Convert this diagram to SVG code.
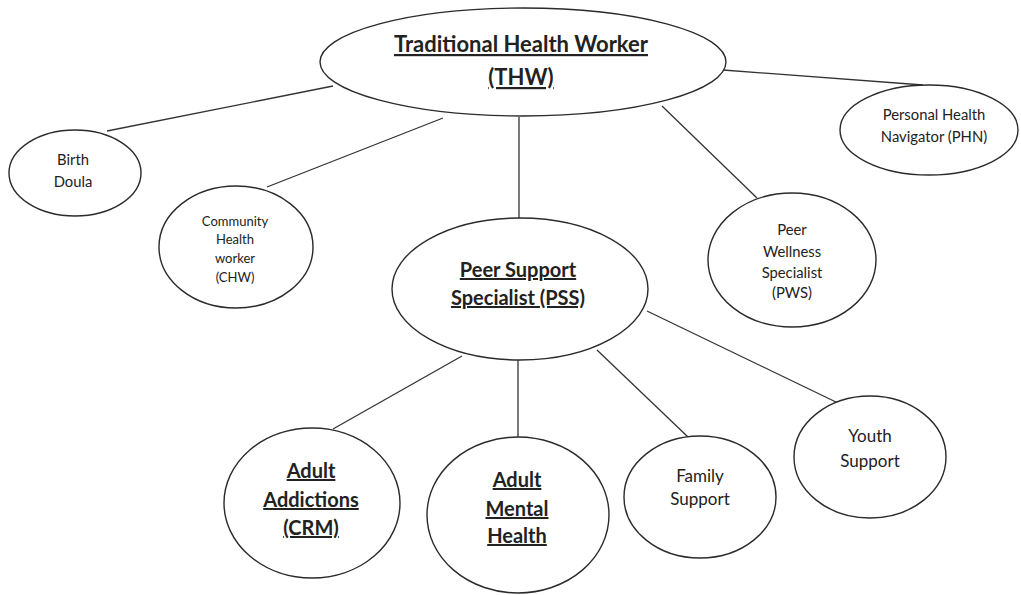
<svg xmlns="http://www.w3.org/2000/svg" width="1021" height="595" viewBox="0 0 1021 595">
  <style>
    .node ellipse { fill: #ffffff; stroke: #2b2b2b; stroke-width: 1.4; }
    .conn line { stroke: #333333; stroke-width: 1.3; }
    text { font-family: Lato, "Open Sans", "Liberation Sans", sans-serif; fill: #222222; text-anchor: middle; }
    .main { font-size: 22px; font-weight: bold; text-decoration: underline; }
    .sub { font-size: 20px; font-weight: bold; text-decoration: underline; }
    .mid { font-size: 17px; }
    .small { font-size: 14.8px; }
    .tiny { font-size: 13px; }
  </style>
  <rect width="1021" height="595" fill="#ffffff"/>

  <!-- connectors -->
  <g class="conn" id="connectors">
    <line x1="519" y1="117" x2="519" y2="218"/>
    <line x1="333" y1="86" x2="107" y2="131"/>
    <line x1="443" y1="118" x2="267" y2="187"/>
    <line x1="723" y1="70" x2="923" y2="85"/>
    <line x1="662" y1="106" x2="757" y2="198"/>
    <line x1="462" y1="356" x2="333" y2="429"/>
    <line x1="518" y1="360" x2="518" y2="437"/>
    <line x1="597" y1="350" x2="688" y2="437"/>
    <line x1="647" y1="311" x2="838" y2="403"/>
  </g>

  <!-- nodes -->
  <g class="node" id="thw">
    <ellipse cx="523" cy="62" rx="203" ry="54"/>
    <text class="main" x="521" y="52">Traditional Health Worker</text>
    <text class="main" x="521" y="85">(THW)</text>
  </g>
  <g class="node" id="birth-doula">
    <ellipse cx="75" cy="173" rx="66" ry="43"/>
    <text class="small" x="73" y="165">Birth</text>
    <text class="small" x="73" y="187">Doula</text>
  </g>
  <g class="node" id="chw">
    <ellipse cx="236" cy="247" rx="77" ry="61"/>
    <text class="tiny" x="235" y="226">Community</text>
    <text class="tiny" x="235" y="244">Health</text>
    <text class="tiny" x="235" y="263">worker</text>
    <text class="tiny" x="235" y="282">(CHW)</text>
  </g>
  <g class="node" id="phn">
    <ellipse cx="929" cy="130" rx="89" ry="45"/>
    <text class="small" x="934" y="120">Personal Health</text>
    <text class="small" x="934" y="142">Navigator (PHN)</text>
  </g>
  <g class="node" id="pws">
    <ellipse cx="792" cy="260" rx="84" ry="67"/>
    <text class="small" x="792" y="235">Peer</text>
    <text class="small" x="792" y="257">Wellness</text>
    <text class="small" x="792" y="278">Specialist</text>
    <text class="small" x="792" y="298">(PWS)</text>
  </g>
  <g class="node" id="pss">
    <ellipse cx="520" cy="289" rx="128" ry="71"/>
    <text class="sub" x="518" y="277">Peer Support</text>
    <text class="sub" x="518" y="305">Specialist (PSS)</text>
  </g>
  <g class="node" id="adult-addictions">
    <ellipse cx="312" cy="503" rx="88" ry="75"/>
    <text class="sub" x="311" y="478">Adult</text>
    <text class="sub" x="311" y="507">Addictions</text>
    <text class="sub" x="311" y="535">(CRM)</text>
  </g>
  <g class="node" id="adult-mental-health">
    <ellipse cx="518" cy="515" rx="91" ry="78"/>
    <text class="sub" x="517" y="487">Adult</text>
    <text class="sub" x="517" y="516">Mental</text>
    <text class="sub" x="517" y="543">Health</text>
  </g>
  <g class="node" id="family-support">
    <ellipse cx="700" cy="497" rx="76" ry="61"/>
    <text class="mid" x="700" y="482">Family</text>
    <text class="mid" x="700" y="505">Support</text>
  </g>
  <g class="node" id="youth-support">
    <ellipse cx="870" cy="457" rx="76" ry="61"/>
    <text class="mid" x="870" y="442">Youth</text>
    <text class="mid" x="870" y="467">Support</text>
  </g>
</svg>
